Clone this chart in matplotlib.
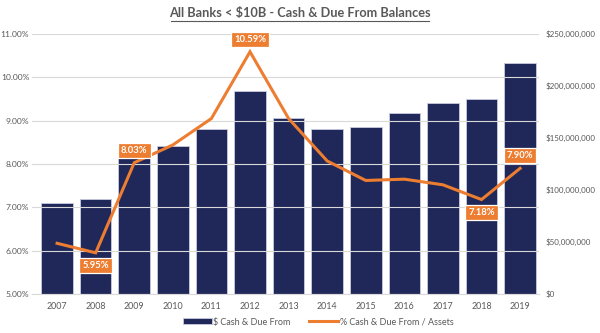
import numpy as np
import matplotlib.pyplot as plt
from matplotlib.ticker import FuncFormatter

plt.rcParams['font.family'] = ['Lato', 'DejaVu Sans']

# data
years = ['2007', '2008', '2009', '2010', '2011', '2012', '2013',
         '2014', '2015', '2016', '2017', '2018', '2019']
cash_due = [87.2e6, 91.0e6, 131.4e6, 142.3e6, 158.3e6, 194.9e6, 168.9e6,
            158.3e6, 160.6e6, 173.7e6, 183.3e6, 187.2e6, 222.4e6]
pct_assets = [6.17, 5.95, 8.03, 8.44, 9.05, 10.59, 9.05,
              8.07, 7.62, 7.65, 7.52, 7.18, 7.90]
# which points get a label box, and above/below
labelled = {1: 'below', 2: 'above', 5: 'above', 11: 'below', 12: 'above'}

navy = '#1f2858'
orange = '#ed7d31'
grey = '#595959'

fig = plt.figure(figsize=(6, 3.33), dpi=100)
ax = fig.add_axes([32/600, 1-294/333, 507/600, 260/333])
ax2 = ax.twinx()

x = np.arange(len(years))

# bars on the right ($) axis, line on the left (%) axis
ax2.bar(x, cash_due, width=0.82, color=navy, edgecolor='#c8cbe0', linewidth=0.6,
        label='$ Cash & Due From', zorder=2)
ax2.set_ylim(0, 250e6)
ax2.set_yticks(np.arange(0, 250e6+1, 50e6))
ax2.yaxis.set_major_formatter(FuncFormatter(lambda v, p: '${:,.0f}'.format(v)))

ax.set_ylim(5, 11)
ax.set_yticks(np.arange(5, 11.01, 1))
ax.yaxis.set_major_formatter(FuncFormatter(lambda v, p: '{:.2f}%'.format(v)))
ax.set_xlim(-0.65, 12.49)
ax.set_xticks(x)
ax.set_xticklabels(years)
ax.grid(axis='y', color='#d9d9d9', linewidth=0.8)
ax.set_axisbelow(True)

# put line axis on top of the bar axis
ax.set_zorder(ax2.get_zorder() + 1)
ax.patch.set_visible(False)
line, = ax.plot(x, pct_assets, color=orange, linewidth=2.2,
                label='% Cash & Due From / Assets', zorder=3, solid_joinstyle='miter')

for i, pos in labelled.items():
    dy = 9 if pos == 'above' else -9
    ax.annotate('{:.2f}%'.format(pct_assets[i]), (x[i], pct_assets[i]),
                xytext=(0, dy), textcoords='offset points',
                ha='center', va='center', fontsize=6.8, fontweight='bold',
                color='white', zorder=5,
                bbox=dict(boxstyle='square,pad=0.32', fc=orange, ec='white', lw=0.9))

for a in (ax, ax2):
    for s in a.spines.values():
        s.set_visible(False)
    a.tick_params(length=0, labelsize=6.1, colors=grey)
ax.spines['bottom'].set_visible(True)
ax.spines['bottom'].set_color('#d9d9d9')
ax.tick_params(axis='x', pad=6, labelsize=6.4)
ax.tick_params(axis='y', pad=2)
ax2.tick_params(axis='y', pad=5, labelsize=5.8)

fig.text(0.5, 1-13/333, 'All Banks < $10B - Cash & Due From Balances',
         ha='center', va='center', fontsize=9.2, fontweight='bold', color=grey)
# underline for the title
fig.add_artist(plt.Line2D([171/600, 429/600], [1-20.5/333, 1-20.5/333],
                          color=grey, linewidth=0.8))

bars = ax2.containers[0]
fig.legend([bars, line], ['$ Cash & Due From', '% Cash & Due From / Assets'],
           loc='center', bbox_to_anchor=(0.53, 1-322/333), ncol=2, frameon=False,
           fontsize=6.5, labelcolor=grey, handlelength=3.2, handleheight=0.6,
           columnspacing=2.0, handletextpad=0.2)

plt.savefig('out.png', dpi=100)
